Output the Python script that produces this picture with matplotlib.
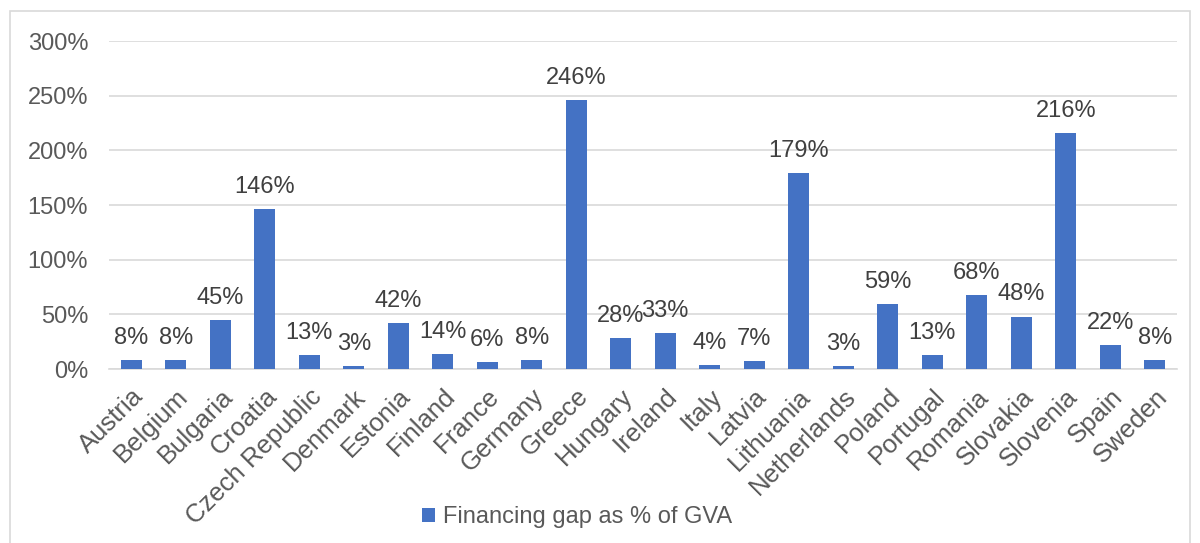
import matplotlib
matplotlib.use("Agg")
import matplotlib.pyplot as plt
from matplotlib.patches import Rectangle

countries = ["Austria", "Belgium", "Bulgaria", "Croatia", "Czech Republic", "Denmark",
             "Estonia", "Finland", "France", "Germany", "Greece", "Hungary", "Ireland",
             "Italy", "Latvia", "Lithuania", "Netherlands", "Poland", "Portugal",
             "Romania", "Slovakia", "Slovenia", "Spain", "Sweden"]
gap_pct = [8, 8, 45, 146, 13, 3, 42, 14, 6, 8, 246, 28, 33, 4, 7, 179, 3, 59, 13,
           68, 48, 216, 22, 8]
y_ticks = [0, 50, 100, 150, 200, 250, 300]
series_name = "Financing gap as % of GVA"

plt.rcParams['font.family'] = ['Liberation Sans', 'DejaVu Sans']
TXT = '#595959'
BLUE = '#4472C4'
FS = 17

W, H = 1200, 543
fig = plt.figure(figsize=(12, 5.43), dpi=100)
ax = fig.add_axes([109 / W, 1 - 369 / H, (1177 - 109) / W, (369 - 41) / H])

x = list(range(len(countries)))
bars = ax.bar(x, gap_pct, width=0.47, color=BLUE, label=series_name, zorder=3)
for xi, v in zip(x, gap_pct):
    ax.annotate(f"{v}%", (xi, v), xytext=(0, 8), textcoords='offset points',
                ha='center', va='bottom', fontsize=FS, color='#404040')

ax.set_xlim(-0.5, len(countries) - 0.5)
ax.set_ylim(0, 300)
ax.set_yticks(y_ticks)
ax.set_yticklabels([f"{t}%" for t in y_ticks], fontsize=FS, color=TXT)
ax.set_xticks(x)
ax.set_xticklabels(countries, rotation=45, ha='right', rotation_mode='anchor',
                   fontsize=18.5, color=TXT)
ax.tick_params(axis='both', length=0)
ax.tick_params(axis='y', pad=15)
ax.tick_params(axis='x', pad=11)
ax.grid(axis='y', color='#d9d9d9', linewidth=1.2, zorder=0)
for s in ['top', 'right', 'left']:
    ax.spines[s].set_visible(False)
ax.spines['bottom'].set_color('#d9d9d9')
ax.spines['bottom'].set_linewidth(1.2)

leg = fig.legend(handles=[bars], labels=[series_name], loc='center',
                 bbox_to_anchor=(577 / W, 1 - 517 / H), frameon=False, fontsize=FS,
                 handlelength=0.55, handleheight=0.55, handletextpad=0.35)
for t in leg.get_texts():
    t.set_color(TXT)

fig.patches.append(Rectangle((10 / W, -0.05), (1190 - 10) / W, 1 - 11 / H + 0.05,
                             transform=fig.transFigure, fill=False,
                             edgecolor='#d9d9d9', linewidth=1.2))

fig.savefig("out.png", dpi=100)
